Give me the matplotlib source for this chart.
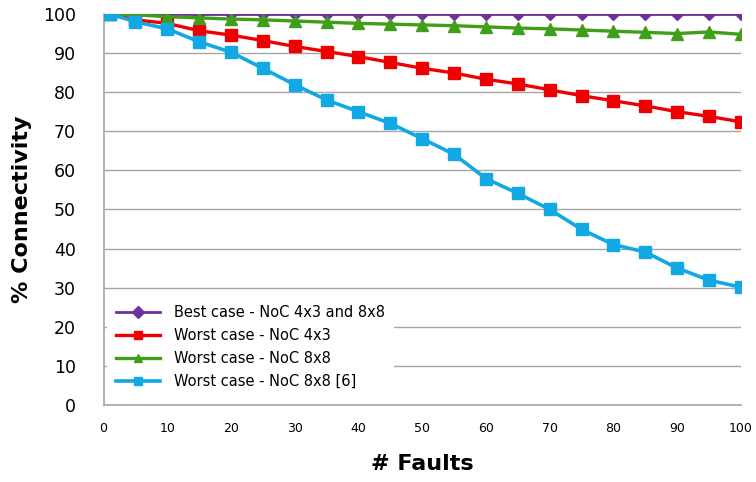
import matplotlib
matplotlib.use("Agg")
import matplotlib.pyplot as plt

faults = [1, 5, 10, 15, 20, 25, 30, 35, 40, 45, 50, 55, 60, 65, 70, 75, 80, 85, 90, 95, 100]
best_case = [100] * 21
worst_4x3 = [100, 98.5, 97.6, 95.7, 94.6, 93.2, 91.7, 90.4, 89.1, 87.6, 86.1, 84.9, 83.3, 82.1, 80.6, 79.1, 77.8, 76.5, 75.0, 73.8, 72.4]
worst_8x8 = [100, 99.8, 99.3, 99.0, 98.7, 98.5, 98.2, 97.9, 97.6, 97.4, 97.2, 97.0, 96.7, 96.4, 96.2, 95.9, 95.6, 95.3, 95.0, 95.4, 94.8]
worst_8x8_ref = [100, 98.0, 96.2, 92.9, 90.2, 86.1, 81.9, 78.0, 75.0, 72.0, 68.1, 64.1, 57.9, 54.1, 50.0, 44.9, 41.0, 39.1, 35.0, 31.9, 30.1]

labels = ["Best case - NoC 4x3 and 8x8", "Worst case - NoC 4x3",
          "Worst case - NoC 8x8", "Worst case - NoC 8x8 [6]"]

fig = plt.figure(figsize=(7.56, 4.82), dpi=100)
ax = fig.add_axes([0.137, 0.160, 0.843, 0.811])

ax.plot(faults, best_case, color="#7030A0", lw=2.0, marker="D", ms=6, label=labels[0], zorder=3)
ax.plot(faults, worst_4x3, color="#EE0000", lw=2.4, marker="s", ms=9, label=labels[1], zorder=4)
ax.plot(faults, worst_8x8, color="#3F9F1A", lw=2.4, marker="^", ms=8, label=labels[2], zorder=5)
ax.plot(faults, worst_8x8_ref, color="#12A8E3", lw=2.6, marker="s", ms=8, label=labels[3], zorder=6)

ax.set_xlim(0, 100)
ax.set_ylim(0, 100)
ax.set_xticks(range(0, 101, 10))
ax.set_yticks(range(0, 101, 10))
ax.yaxis.grid(True, color="#A6A6A6", lw=1)
ax.set_axisbelow(True)
for s in ["top", "right"]:
    ax.spines[s].set_visible(False)
for s in ["left", "bottom"]:
    ax.spines[s].set_color("#A6A6A6")
    ax.spines[s].set_linewidth(1.2)
ax.tick_params(axis="both", length=0)
ax.tick_params(axis="x", labelsize=9, pad=12)
ax.tick_params(axis="y", labelsize=12.5, pad=20)
for t in ax.get_yticklabels():
    t.set_fontweight("medium")

ax.set_xlabel("# Faults", fontsize=16, fontweight="bold", labelpad=14)
ax.set_ylabel("% Connectivity", fontsize=16, fontweight="bold", labelpad=8)

leg = ax.legend(loc="lower left", bbox_to_anchor=(0.006, 0.018), frameon=True,
                fontsize=10.5, handlelength=3.0, handletextpad=1.0,
                labelspacing=0.55, borderaxespad=0.0, borderpad=0.6)
leg.get_frame().set_edgecolor("none")
leg.get_frame().set_facecolor("white")
leg.get_frame().set_alpha(1)
leg.get_frame().set_boxstyle("square", pad=0)
for h in leg.legend_handles:
    h.set_markersize(6)

fig.savefig("out.png", dpi=100)
